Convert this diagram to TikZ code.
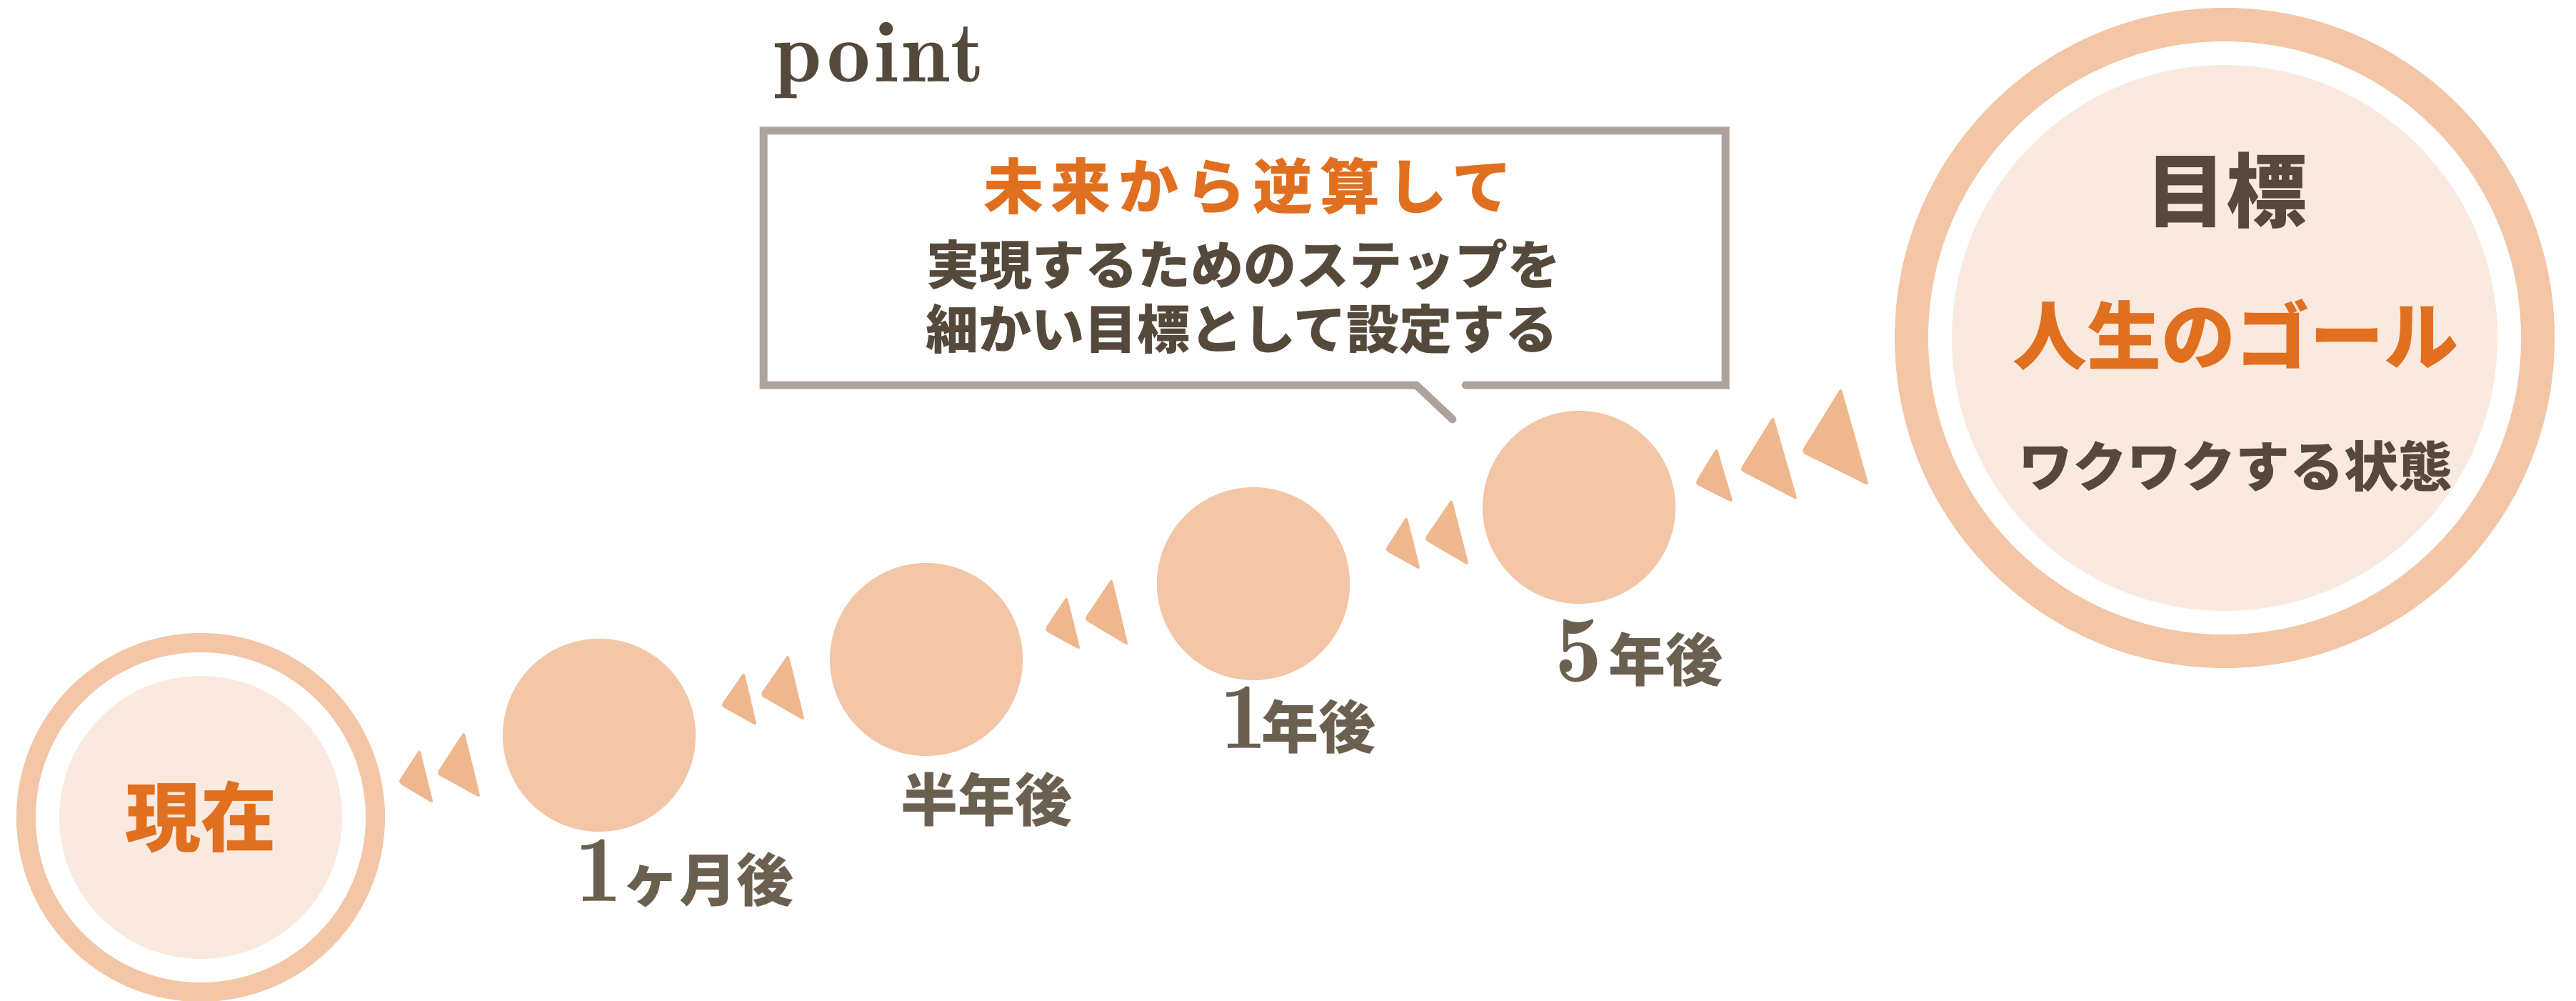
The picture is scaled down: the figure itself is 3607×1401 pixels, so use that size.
\documentclass[tikz,border=0pt]{standalone}
\usepackage{fontspec}
\newfontfamily\jp{Noto Sans CJK JP}
\newfontfamily\lmdemi[Extension=.otf]{lmromandemi10-regular}
\definecolor{ringcol}{HTML}{F2C6A6}
\definecolor{innercol}{HTML}{FAE9DF}
\definecolor{tricol}{HTML}{EEB78E}
\definecolor{boxcol}{HTML}{ADA39C}
\definecolor{orng}{HTML}{E07020}
\definecolor{darkt}{HTML}{54493A}
\definecolor{labt}{HTML}{6B6050}
\newcommand{\digf}{\lmdemi\fontsize{66pt}{66pt}\selectfont}
\begin{document}
\begin{tikzpicture}[x=0.5pt,y=-0.5pt,
  every node/.style={inner sep=0pt},
  stepcirc/.style={circle,fill=ringcol,minimum size=135pt,inner sep=0pt},
  arrowtri/.style={fill=tricol,rounded corners=2.5pt},
  lbl/.style={anchor=base west,text=labt,font=\jp\bfseries\fontsize{40pt}{40pt}\selectfont},
]
\useasboundingbox (0,0) rectangle (3607,1401);
\fill[white] (0,0) rectangle (3607,1401);

% current state circle
\fill[ringcol] (281,1144) circle[radius=129pt];
\fill[white] (281,1144) circle[radius=115.5pt];
\fill[innercol] (281,1144) circle[radius=99pt];
\node[text=orng,font=\jp\bfseries\fontsize{53pt}{53pt}\selectfont] (now) at (281,1144) {現在};

% goal circle
\fill[ringcol] (3115,473) circle[radius=231pt];
\fill[white] (3115,473) circle[radius=207.5pt];
\fill[innercol] (3115,473) circle[radius=191pt];
\node[text=darkt,font=\jp\bfseries\fontsize{56.5pt}{56.5pt}\selectfont] (g1) at (3117,267) {目標};
\node[text=orng,font=\jp\bfseries\fontsize{52pt}{52pt}\selectfont] (g2) at (3130,469) {人生のゴール};
\node[text=darkt,font=\jp\bfseries\fontsize{38pt}{38pt}\selectfont] (g3) at (3130,652) {ワクワクする状態};

% step circles
\node[stepcirc] (c1) at (839,1029) {};
\node[stepcirc] (c2) at (1297,923) {};
\node[stepcirc] (c3) at (1755,817) {};
\node[stepcirc] (c4) at (2211,710) {};

% labels
\node[lbl] (l1) at (805,1261) {{\digf 1}ヶ月後};
\node[lbl] (l2) at (1261,1149) {半年後};
\node[lbl] (l3) at (1708,1047) {{\digf 1}\kern-4pt 年後};
\node[lbl] (l4) at (2177,953) {{\digf 5}\kern4.5pt 年後};

% arrow triangles
\fill[arrowtri] (588,1048) -- (557,1095) -- (607,1125) -- cycle;
\fill[arrowtri] (650,1023) -- (611,1083) -- (673,1117) -- cycle;
\fill[arrowtri] (1042,940) -- (1009,988) -- (1060,1016) -- cycle;
\fill[arrowtri] (1104,915) -- (1064,973) -- (1127,1009) -- cycle;
\fill[arrowtri] (1494,834) -- (1462,882) -- (1513,910) -- cycle;
\fill[arrowtri] (1557,809) -- (1518,867) -- (1580,904) -- cycle;
\fill[arrowtri] (1970,722) -- (1939,770) -- (1989,798) -- cycle;
\fill[arrowtri] (2033,698) -- (1994,755) -- (2057,792) -- cycle;
\fill[arrowtri] (2404,626) -- (2373,677) -- (2427,704) -- cycle;
\fill[arrowtri] (2483,582) -- (2436,658) -- (2517,700) -- cycle;
\fill[arrowtri] (2578,542) -- (2522,633) -- (2617,680) -- cycle;

% callout box
\coordinate (tailtip) at (2034,587);
\draw[boxcol,line width=5.5pt,line cap=round,line join=miter]
  (2052,539) -- (2416,539) -- (2416,183) -- (1069,183) -- (1069,539) -- (1983,539) -- (tailtip);
\node[anchor=base west,text=darkt,font=\lmdemi\fontsize{60.5pt}{60.5pt}\selectfont\addfontfeature{LetterSpace=4}] (pt) at (1083,115) {point};
\node[text=orng,font=\jp\bfseries\fontsize{42pt}{42pt}\selectfont\addfontfeature{LetterSpace=12}] (b1) at (1748,260) {未来から逆算して};
\node[text=darkt,font=\jp\bfseries\fontsize{37pt}{37pt}\selectfont] (b2) at (1741,370) {実現するためのステップを};
\node[text=darkt,font=\jp\bfseries\fontsize{37pt}{37pt}\selectfont] (b3) at (1739,461) {細かい目標として設定する};
\end{tikzpicture}
\end{document}
